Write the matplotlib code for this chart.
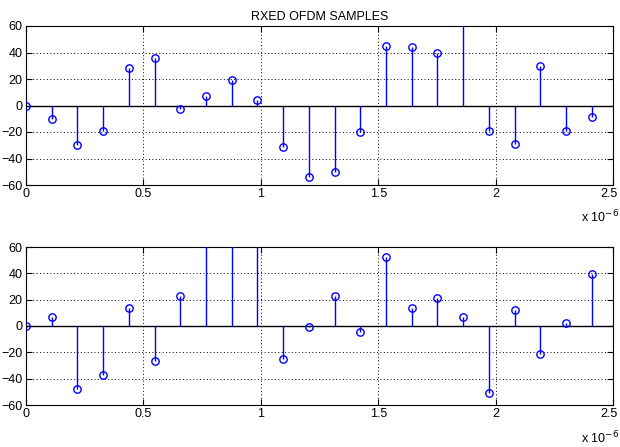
import numpy as np
import matplotlib
matplotlib.use("Agg")
import matplotlib.pyplot as plt
from matplotlib.transforms import ScaledTranslation

plt.rcParams['font.family'] = ['Liberation Sans', 'DejaVu Sans']

# sample index and sample period (seconds)
n_samples = np.arange(23)
sample_period = 0.1095e-6

top_values = [0, -10, -30, -19, 28, 36, -3, 7, 19, 4.5, -31, -54,
              -50, -20, 45, 44, 39.5, 80, -19.5, -29, 30, -19.5, -8.5]
bottom_values = [0, 7, -47.5, -37, 14, -26.5, 22.5, 80, 80, 80, -25, -1,
                 23, -4.5, 52.5, 14, 21.5, 7, -51, 12, -21.5, 2, 39.5]

title = "RXED OFDM SAMPLES"
xticks = [0, 0.5, 1, 1.5, 2, 2.5]
xtick_labels = ["0", "0.5", "1", "1.5", "2", "2.5"]
yticks = [-60, -40, -20, 0, 20, 40, 60]

W, H = 620, 447
fig = plt.figure(figsize=(W / 100, H / 100), dpi=100)

def add_axes(top_px, bottom_px):
    left_px, right_px = 26, 613
    return fig.add_axes([left_px / W, 1 - bottom_px / H,
                         (right_px - left_px) / W, (bottom_px - top_px) / H])

ax1 = add_axes(26, 185)
ax2 = add_axes(247, 405)

t_us = n_samples * sample_period * 1e6

for ax, vals in [(ax1, top_values), (ax2, bottom_values)]:
    vals = np.asarray(vals, dtype=float)
    ax.vlines(t_us, 0, vals, colors='#0000ff', linewidth=1.0, zorder=3)
    ax.plot(t_us, vals, 'o', markersize=5.3, markerfacecolor='none',
            markeredgecolor='#0000ff', markeredgewidth=1.0, zorder=4)
    ax.axhline(0, color='black', linewidth=1.0, zorder=2)
    ax.set_xlim(0, 2.5)
    ax.set_ylim(-60, 60)
    ax.set_xticks(xticks)
    ax.set_xticklabels(xtick_labels)
    ax.set_yticks(yticks)
    ax.grid(True, color='black', linestyle=(0, (1, 2.5)), linewidth=0.7)
    ax.set_axisbelow(True)
    ax.tick_params(direction='in', top=True, right=True, labelsize=9,
                   length=4, width=0.8, pad=2.5)
    for s in ax.spines.values():
        s.set_linewidth(0.8)
    last = ax.get_xticklabels()[-1]
    last.set_transform(last.get_transform() + ScaledTranslation(-4 / 100, 0, fig.dpi_scale_trans))

ax1.set_title(title, fontsize=9, pad=4)

fig.text(581 / W, 1 - 217 / H, r"x 10$^{-6}$", fontsize=9, ha='left', va='center')
fig.text(581 / W, 1 - 438 / H, r"x 10$^{-6}$", fontsize=9, ha='left', va='center')

fig.savefig("out.png", dpi=100, facecolor='white')
